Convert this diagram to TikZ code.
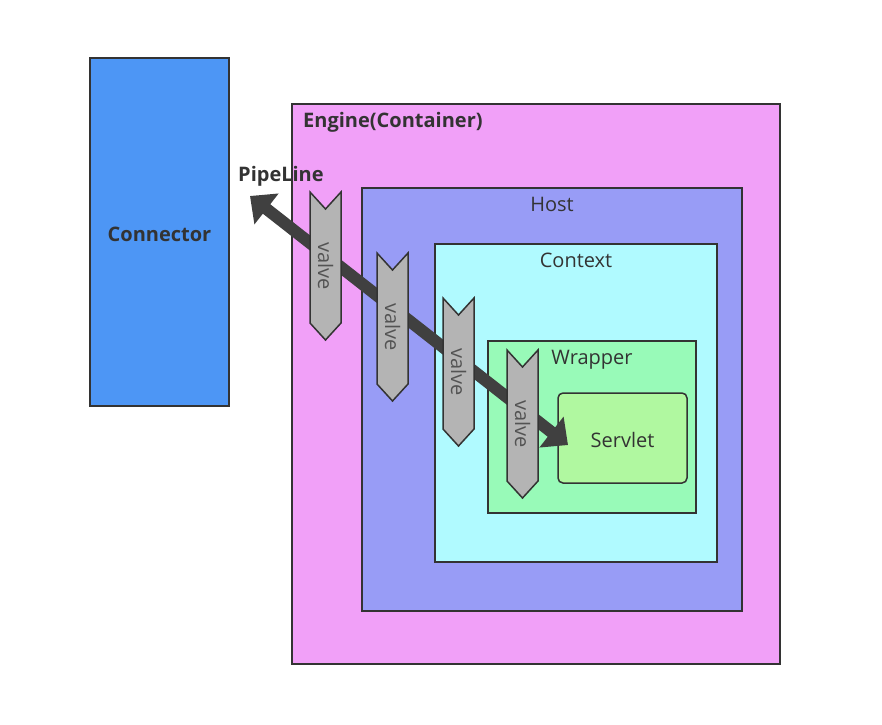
\documentclass[tikz,border=0pt]{standalone}
\usepackage{fontspec}
\setmainfont{Open Sans}
\usetikzlibrary{arrows.meta}
\definecolor{cconn}{RGB}{77,150,245}
\definecolor{ceng}{RGB}{241,160,248}
\definecolor{chost}{RGB}{152,156,246}
\definecolor{cctx}{RGB}{176,250,255}
\definecolor{cwrap}{RGB}{152,250,184}
\definecolor{cserv}{RGB}{176,248,160}
\definecolor{cvalve}{RGB}{180,180,180}
\definecolor{carrow}{RGB}{64,64,64}
\definecolor{cline}{RGB}{51,51,51}
\definecolor{ctext}{RGB}{51,51,51}
\tikzset{
  box/.style={draw=cline, line width=1.5pt, inner sep=0pt, rectangle},
  lbl/.style={text=ctext, font=\fontsize{20}{24}\selectfont, inner sep=0pt, anchor=base},
  blbl/.style={lbl, font=\fontsize{20}{24}\selectfont\bfseries},
  valveshape/.style={draw=cline, line width=1.5pt, fill=cvalve, line join=miter},
  valvetext/.style={text=carrow!90, font=\fontsize{20}{24}\selectfont, rotate=-90, inner sep=0pt},
  pipe/.style={draw=carrow, line width=12pt, {Triangle[length=21pt,width=38pt]}-{Triangle[length=21pt,width=38pt]}, carrow},
}
\newcommand\valvepath[3]{% x0, top, name
  \draw[valveshape] (#1,#2) -- ({#1+15.5},{#2+17}) -- ({#1+31},#2) -- ({#1+31},{#2+131})
     -- ({#1+15.5},{#2+148}) -- (#1,{#2+131}) -- cycle;
  \node[valvetext] (#3) at ({#1+15.5},{#2+74}) {valve};
}
\begin{document}
\begin{tikzpicture}[x=1pt,y=-1pt]
\useasboundingbox (0,0) rectangle (882,724);
\node[box, fill=cconn, minimum width=139pt, minimum height=348pt] (connector) at (159.5,232) {};
\node[box, fill=ceng, minimum width=488pt, minimum height=560pt] (engine) at (536,384) {};
\node[box, fill=chost, minimum width=380pt, minimum height=423pt] (host) at (552,399.5) {};
\node[box, fill=cctx, minimum width=282pt, minimum height=318pt] (context) at (576,403) {};
\node[box, fill=cwrap, minimum width=208pt, minimum height=172pt] (wrapper) at (592,427) {};
\node[box, fill=cserv, rounded corners=5pt, minimum width=129pt, minimum height=90pt] (servlet) at (622.5,438) {};

\coordinate (pl) at (250,196);
\coordinate (sv) at (568,445);
\draw[pipe] (pl) -- (sv);

\valvepath{310}{192}{v1}
\valvepath{377}{253}{v2}
\valvepath{443}{298}{v3}
\valvepath{507}{350}{v4}

\node[blbl] (tconn) at (159.5,241) {Connector};
\node[blbl, anchor=base west] (teng) at (303,127) {Engine(Container)};
\node[blbl, anchor=base west] (tpipe) at (238,181) {PipeLine};
\node[lbl] (thost) at (552,211) {Host};
\node[lbl] (tctx) at (576,267) {Context};
\node[lbl] (twrap) at (592,364) {Wrapper};
\node[lbl] (tserv) at (622.5,447) {Servlet};
\end{tikzpicture}
\end{document}
